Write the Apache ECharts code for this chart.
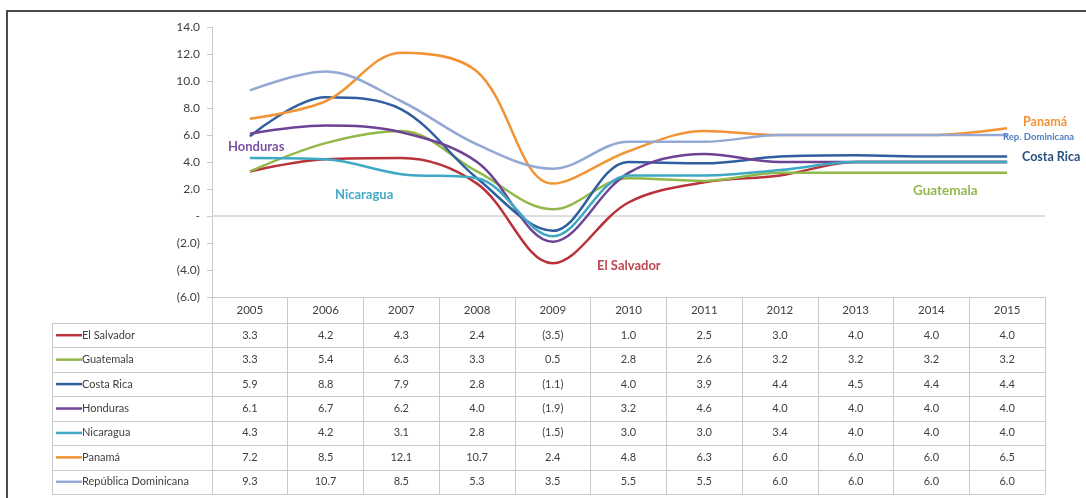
<!DOCTYPE html>
<html>
<head>
<meta charset="utf-8">
<script src="https://cdn.jsdelivr.net/npm/echarts@6/dist/echarts.min.js"></script>
<style>
html,body{margin:0;padding:0;background:#fff;}
#c{width:1086px;height:498px;}
</style>
</head>
<body>
<div id="c"></div>
<script>
const years = ['2005','2006','2007','2008','2009','2010','2011','2012','2013','2014','2015'];
const names = ['El Salvador','Guatemala','Costa Rica','Honduras','Nicaragua','Panamá','República Dominicana'];
const elSalvador = [3.3,4.2,4.3,2.4,-3.5,1.0,2.5,3.0,4.0,4.0,4.0];
const guatemala  = [3.3,5.4,6.3,3.3,0.5,2.8,2.6,3.2,3.2,3.2,3.2];
const costaRica  = [5.9,8.8,7.9,2.8,-1.1,4.0,3.9,4.4,4.5,4.4,4.4];
const honduras   = [6.1,6.7,6.2,4.0,-1.9,3.2,4.6,4.0,4.0,4.0,4.0];
const nicaragua  = [4.3,4.2,3.1,2.8,-1.5,3.0,3.0,3.4,4.0,4.0,4.0];
const panama     = [7.2,8.5,12.1,10.7,2.4,4.8,6.3,6.0,6.0,6.0,6.5];
const repDom     = [9.3,10.7,8.5,5.3,3.5,5.5,5.5,6.0,6.0,6.0,6.0];
const seriesData = [elSalvador, guatemala, costaRica, honduras, nicaragua, panama, repDom];
const colors = ['#b8333c','#93b84a','#2f5f9f','#6e4396','#3fa9c4','#f29335','#93a8d3'];

const FONT = 'Lato, "Open Sans", sans-serif';
const TXT = '#404040';
const BORDER = '#c9c9c9';

function fmt(v){ return v < 0 ? '(' + Math.abs(v).toFixed(1) + ')' : v.toFixed(1); }

const chart = echarts.init(document.getElementById('c'), null, {renderer:'canvas'});
const GRID = {left:212, right:41, top:27, bottom:201};
const series = names.map((n,i)=>({
  name:n, type:'line', data:seriesData[i], smooth:0.35, symbol:'none',
  lineStyle:{width:2.5, color:colors[i]}, itemStyle:{color:colors[i]}, z:3
}));
series[0].markLine = {
  silent:true, symbol:'none', label:{show:false},
  lineStyle:{color:'#d3d3d3', type:'solid', width:1.5},
  data:[{yAxis:0}], z:1
};
chart.setOption({
  animation:false,
  grid:GRID,
  xAxis:{
    type:'category', data:years, boundaryGap:true,
    axisLine:{show:true, onZero:false, lineStyle:{color:BORDER, width:1}},
    axisTick:{show:true, length:197, lineStyle:{color:BORDER, width:1}},
    axisLabel:{margin:7, fontFamily:FONT, fontSize:11.5, color:TXT, interval:0}
  },
  yAxis:{
    type:'value', min:-6, max:14, interval:2,
    axisLine:{show:true, lineStyle:{color:BORDER}},
    axisTick:{show:true, length:5, lineStyle:{color:BORDER}},
    splitLine:{show:false},
    axisLabel:{fontFamily:FONT, fontSize:12, color:TXT, margin:12,
      formatter:v => v === 0 ? '-' : fmt(v)}
  },
  series:series
});

// table & annotations
const g = [];
const tableTop = 297, headerH = 26, rowH = 24.43, leftX = 52, rightX = 1045;
// frame
g.push({type:'line', shape:{x1:6, y1:11, x2:1086, y2:11}, style:{stroke:'#4a4a4a', lineWidth:2}});
g.push({type:'line', shape:{x1:7, y1:10, x2:7, y2:498}, style:{stroke:'#4a4a4a', lineWidth:2}});
// horizontal row lines
for (let k=0;k<=7;k++){
  const y = Math.round(tableTop + headerH + k*rowH) + 0.5;
  g.push({type:'line', shape:{x1:leftX, y1:y, x2:rightX, y2:y}, style:{stroke:BORDER, lineWidth:1}});
}
g.push({type:'line', shape:{x1:leftX+0.5, y1:tableTop+headerH, x2:leftX+0.5, y2:tableTop+headerH+7*rowH}, style:{stroke:BORDER, lineWidth:1}});
names.forEach((n,i)=>{
  const cy = tableTop + headerH + (i+0.5)*rowH;
  g.push({type:'line', shape:{x1:56, y1:cy, x2:82, y2:cy}, style:{stroke:colors[i], lineWidth:2.5}});
  g.push({type:'text', x:82, y:cy, style:{text:n, fontFamily:FONT, fontSize:11, fill:TXT, textVerticalAlign:'middle', textAlign:'left'}});
  seriesData[i].forEach((v,j)=>{
    const px = chart.convertToPixel({xAxisIndex:0}, years[j]);
    g.push({type:'text', x:px, y:cy, style:{text:fmt(v), fontFamily:FONT, fontSize:11, fill:TXT, textAlign:'center', textVerticalAlign:'middle'}});
  });
});
// series annotations
const ann = [
  {t:'Honduras', x:228, y:147, c:'#7a52a3', s:13},
  {t:'Nicaragua', x:335, y:195, c:'#45aac6', s:13},
  {t:'El Salvador', x:597, y:266, c:'#c0474f', s:13},
  {t:'Guatemala', x:913, y:191, c:'#93b84a', s:13.5},
  {t:'Costa Rica', x:1022, y:157, c:'#2a4f80', s:12.5},
  {t:'Rep. Dominicana', x:1003, y:137, c:'#4f7fc0', s:9.5},
  {t:'Panamá', x:1023, y:122, c:'#f29335', s:12.5}
];
ann.forEach(a=>{
  g.push({type:'text', x:a.x, y:a.y, z:10, style:{text:a.t, fontFamily:FONT, fontSize:a.s, fontWeight:'bold', fill:a.c, textVerticalAlign:'middle', textAlign:'left'}});
});
chart.setOption({graphic:g});
</script>
</body>
</html>
